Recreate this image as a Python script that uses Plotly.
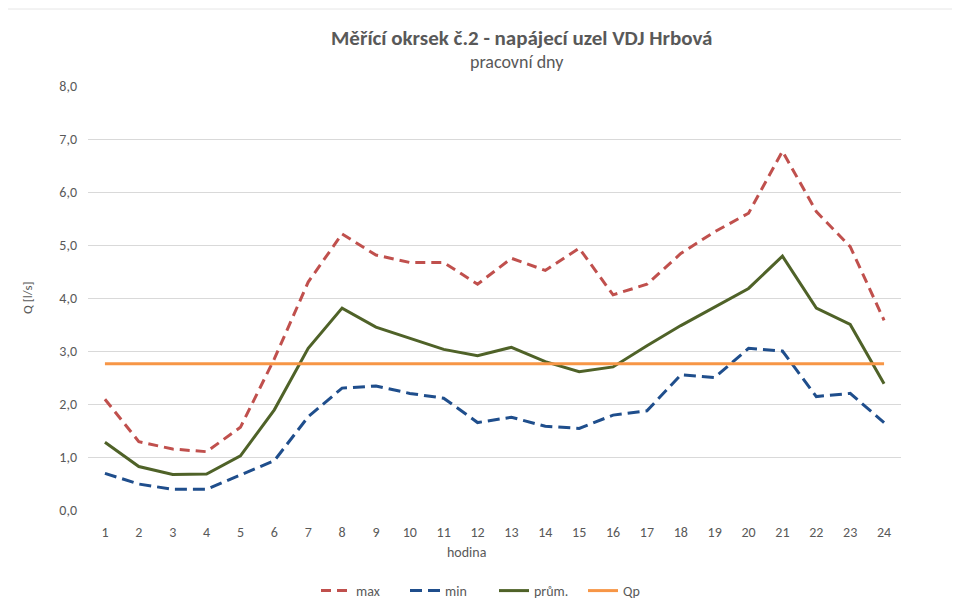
import plotly.graph_objects as go

hours = list(range(1, 25))
q_max = [2.09, 1.29, 1.15, 1.10, 1.56, 2.85, 4.30, 5.21, 4.81, 4.67, 4.67, 4.26,
         4.75, 4.52, 4.94, 4.06, 4.26, 4.84, 5.25, 5.60, 6.77, 5.63, 4.97, 3.58]
q_min = [0.69, 0.49, 0.39, 0.39, 0.66, 0.93, 1.76, 2.30, 2.34, 2.20, 2.11, 1.65,
         1.75, 1.58, 1.54, 1.79, 1.87, 2.55, 2.50, 3.05, 3.00, 2.14, 2.20, 1.65]
q_avg = [1.28, 0.82, 0.67, 0.68, 1.02, 1.89, 3.05, 3.81, 3.45, 3.24, 3.03, 2.91,
         3.07, 2.80, 2.61, 2.70, 3.10, 3.48, 3.83, 4.18, 4.79, 3.81, 3.50, 2.38]
qp_value = 2.76
q_p = [qp_value] * len(hours)

series_names = ["max", "min", "prům.", "Qp"]
title_text = "Měřící okrsek č.2 - napájecí uzel VDJ Hrbová"
subtitle_text = "pracovní dny"
x_title = "hodina"
y_title = "Q [l/s]"

FONT = "Carlito, Calibri, Lato, 'Open Sans', sans-serif"
GRAY = "#595959"

# page body has an 8px default margin; figure is sized to compensate
W, H = 952, 594
L, R, T, B = 80, 59, 78, 92
PW, PH = W - L - R, H - T - B


def px(xr):  # reference x pixel -> paper coord
    return (xr - 8 - L) / PW


def py(yr):  # reference y pixel -> paper coord
    return (H - B - (yr - 8)) / PH


fig = go.Figure()
fig.add_trace(go.Scatter(x=hours, y=q_max, name=series_names[0], mode="lines",
                         line=dict(color="#C0504D", width=3, dash="10px,6px")))
fig.add_trace(go.Scatter(x=hours, y=q_min, name=series_names[1], mode="lines",
                         line=dict(color="#1F4E8C", width=3, dash="12px,6px")))
fig.add_trace(go.Scatter(x=hours, y=q_avg, name=series_names[2], mode="lines",
                         line=dict(color="#4F6228", width=3)))
fig.add_trace(go.Scatter(x=hours, y=q_p, name=series_names[3], mode="lines",
                         line=dict(color="#F79646", width=3)))

fig.update_layout(
    width=W, height=H,
    margin=dict(l=L, r=R, t=T, b=B),
    paper_bgcolor="white", plot_bgcolor="white",
    separators=", ",
    font=dict(family=FONT, size=13, color=GRAY),
    showlegend=True,
    legend=dict(orientation="h", xref="paper", x=px(494), xanchor="center",
                yref="container", y=1 - (591 - 8) / H, yanchor="middle",
                entrywidth=44, entrywidthmode="pixels",
                font=dict(size=14, color=GRAY), tracegroupgap=0),
    xaxis=dict(range=[0.5, 24.5], tickmode="array", tickvals=hours,
               ticktext=[str(h) for h in hours], showgrid=False, zeroline=False,
               showline=False, ticks="", ticklabelstandoff=12,
               tickfont=dict(size=14, color=GRAY)),
    yaxis=dict(range=[0, 8], dtick=1, tickformat=".1f", showgrid=True,
               gridcolor="#D9D9D9", gridwidth=1, zeroline=False, showline=False,
               ticks="", ticklabelstandoff=10, tickfont=dict(size=14, color=GRAY)),
    annotations=[
        dict(text="<b>" + title_text + "</b>", xref="paper", yref="paper",
             x=px(521), y=py(38), showarrow=False,
             xanchor="center", yanchor="middle",
             font=dict(size=21, color=GRAY, family=FONT)),
        dict(text=subtitle_text, xref="paper", yref="paper",
             x=px(517), y=py(62), showarrow=False,
             xanchor="center", yanchor="middle",
             font=dict(size=18, color=GRAY, family=FONT)),
        dict(text=x_title, xref="paper", yref="paper",
             x=px(466), y=py(552), showarrow=False,
             xanchor="center", yanchor="middle",
             font=dict(size=14, color=GRAY, family=FONT)),
        dict(text=y_title, xref="paper", yref="paper",
             x=px(27), y=0.5, showarrow=False, textangle=-90,
             xanchor="center", yanchor="middle",
             font=dict(size=13, color=GRAY, family=FONT)),
    ],
    shapes=[
        dict(type="line", xref="paper", yref="paper",
             x0=px(5), x1=px(958), y0=py(9), y1=py(9),
             line=dict(color="#E6E6E6", width=1)),
    ],
)

fig.write_html("out.html")
